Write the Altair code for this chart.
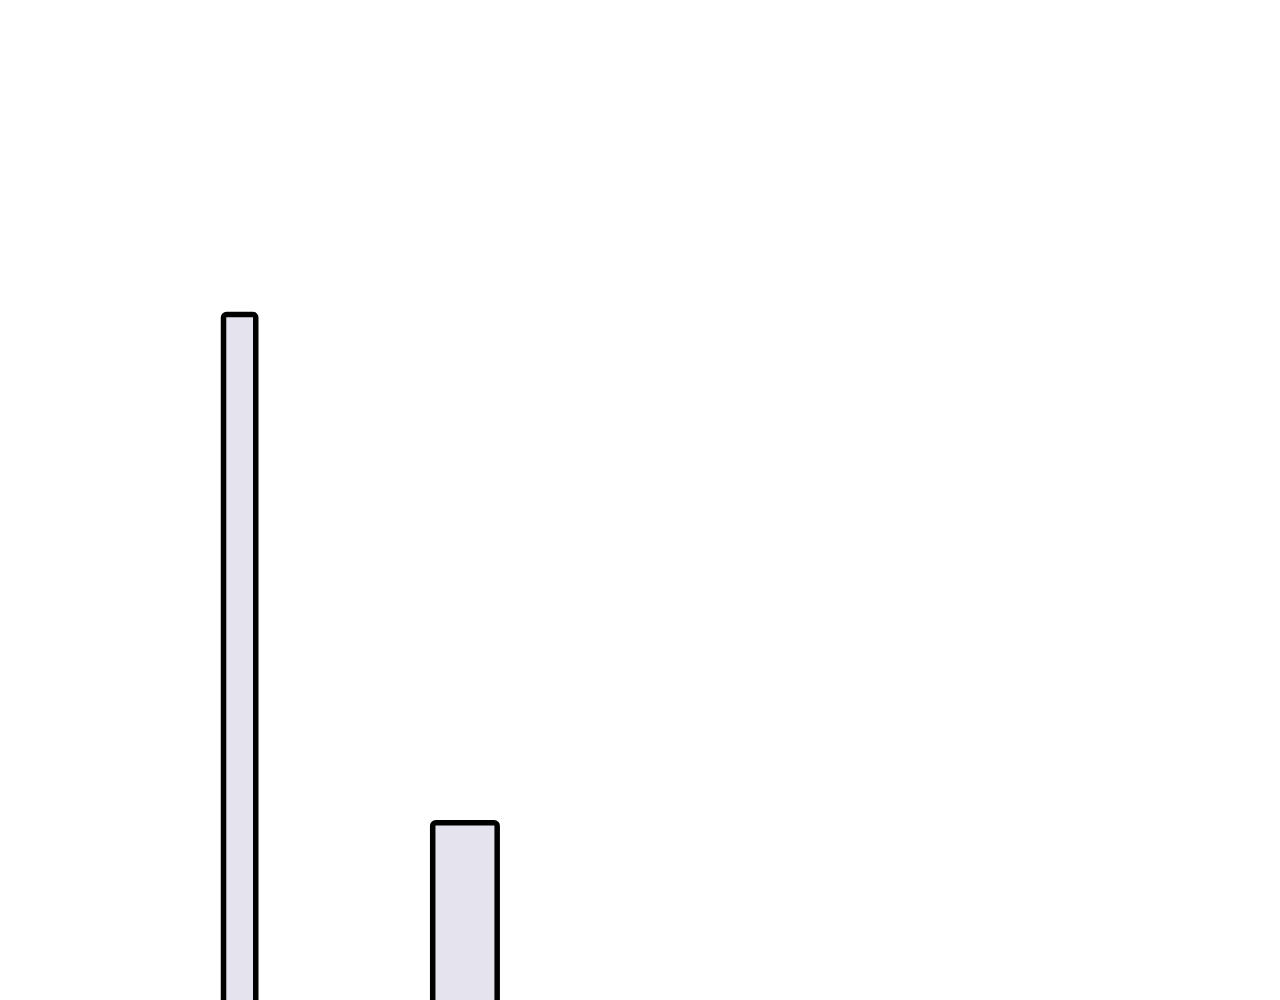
import altair as alt
import pandas as pd

labels = ["A", "B"]
starts = [17.05, 33.6]
ends = [19.6, 38.7]
values = [74.46, 32.1]

df = pd.DataFrame({"label": labels, "start": starts, "end": ends, "value": values})

chart = alt.Chart(df).mark_bar(
    fill="#e5e3ee", stroke="#000000", strokeWidth=5.5, cornerRadius=3, strokeJoin="round"
).encode(
    x=alt.X("start:Q", scale=alt.Scale(domain=[0, 100], nice=False, zero=False), axis=None),
    x2="end:Q",
    y=alt.Y("value:Q", scale=alt.Scale(domain=[0, 100], nice=False), axis=None),
    y2=alt.datum(0),
).properties(
    width=1264, height=1200,
    autosize=alt.AutoSizeParams(type="none"),
    padding=0,
).configure_view(stroke=None)

chart.save("out.html", embed_options={"renderer": "svg", "actions": False})
